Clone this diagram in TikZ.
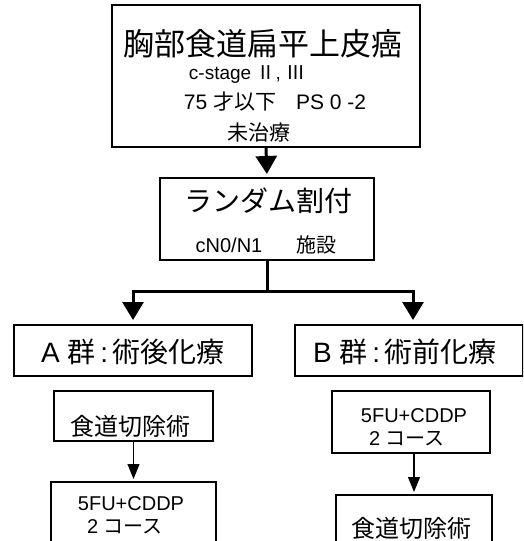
\documentclass[tikz,border=0pt]{standalone}
\usepackage{fontspec}
\setmainfont{Noto Sans CJK JP}
\newfontfamily\lat{Liberation Sans}
\usetikzlibrary{arrows.meta}
\newcommand{\fs}[1]{\fontsize{#1}{#1}\selectfont}
\tikzset{
    box/.style={draw, rectangle, anchor=north west, line width=2pt, inner sep=0pt},
    txt/.style={inner sep=0pt, anchor=center},
    trunk/.style={line width=3pt},
    bigarrow/.style={trunk, -{Triangle[width=21pt, length=18pt]}},
    smallarrow/.style={line width=1.2pt, -{Triangle[width=12pt, length=15pt]}}
}
\begin{document}
\begin{tikzpicture}[x=1pt, y=-1pt]
    \clip (0,0) rectangle (523,541);

    \path
        (111,4) node[box, minimum width=308pt, minimum height=142pt] (intro) {}
        (263,44) node[txt] (intro-title) {\fs{31}胸部食道扁平上皮癌}
        (247,75) node[txt] (intro-stage) {\fs{19}{\lat c-stage }Ⅱ{\lat , }Ⅲ}
        (275,102) node[txt] (intro-age) {\fs{21}{\lat 75 }才以下\hspace{20pt}{\lat PS 0 -2}}
        (259,133) node[txt] (intro-naive) {\fs{21}未治療};

    \path
        (159,177) node[box, minimum width=214pt, minimum height=82pt] (rand) {}
        (268,201) node[txt] (rand-title) {\fs{28}ランダム割付}
        (266,245) node[txt] (rand-strata) {\fs{20}{\lat cN0/N1}\hspace{34pt}施設};

    \path
        (13,324) node[box, minimum width=238pt, minimum height=51pt] (grp-a) {}
        (133,352) node[txt] (grp-a-title) {\fs{28}{\lat A }群\,{\lat :}\,術後化療}
        (53,390) node[box, minimum width=159pt, minimum height=50pt] (a-op) {}
        (130,426) node[txt] (a-op-text) {\fs{24}食道切除術}
        (50,481) node[box, minimum width=165pt, minimum height=70pt] (a-chemo) {}
        (131,504) node[txt] (a-chemo-drug) {\fs{20}\lat 5FU+CDDP}
        (125,527) node[txt] (a-chemo-course) {\fs{20}{\lat 2 }コース};

    \path
        (294,324) node[box, minimum width=228pt, minimum height=51pt] (grp-b) {}
        (405,352) node[txt] (grp-b-title) {\fs{28}{\lat B }群\,{\lat :}\,術前化療}
        (331,390) node[box, minimum width=158pt, minimum height=62pt] (b-chemo) {}
        (414,416) node[txt] (b-chemo-drug) {\fs{20}\lat 5FU+CDDP}
        (407,439) node[txt] (b-chemo-course) {\fs{20}{\lat 2 }コース}
        (335,494) node[box, minimum width=156pt, minimum height=60pt] (b-op) {}
        (411,528) node[txt] (b-op-text) {\fs{24}食道切除術};

    \coordinate (fork-a) at (133,291);
    \coordinate (fork-b) at (413,291);

    \draw[bigarrow, shorten >=3pt] (intro.south) -- (rand.north);
    \draw[trunk] (rand.south) -- (rand.south |- fork-a);
    \draw[trunk, line cap=rect] (fork-a) -- (fork-b);
    \draw[bigarrow, shorten >=4pt] (fork-a) -- (fork-a |- grp-a.north);
    \draw[bigarrow, shorten >=4pt] (fork-b) -- (fork-b |- grp-b.north);

    \draw[smallarrow, shorten >=2pt] (a-op.south) -- (a-chemo.north);
    \draw[smallarrow, shorten >=2pt] (b-chemo.south -| b-op.north) -- (b-op.north);
\end{tikzpicture}
\end{document}
